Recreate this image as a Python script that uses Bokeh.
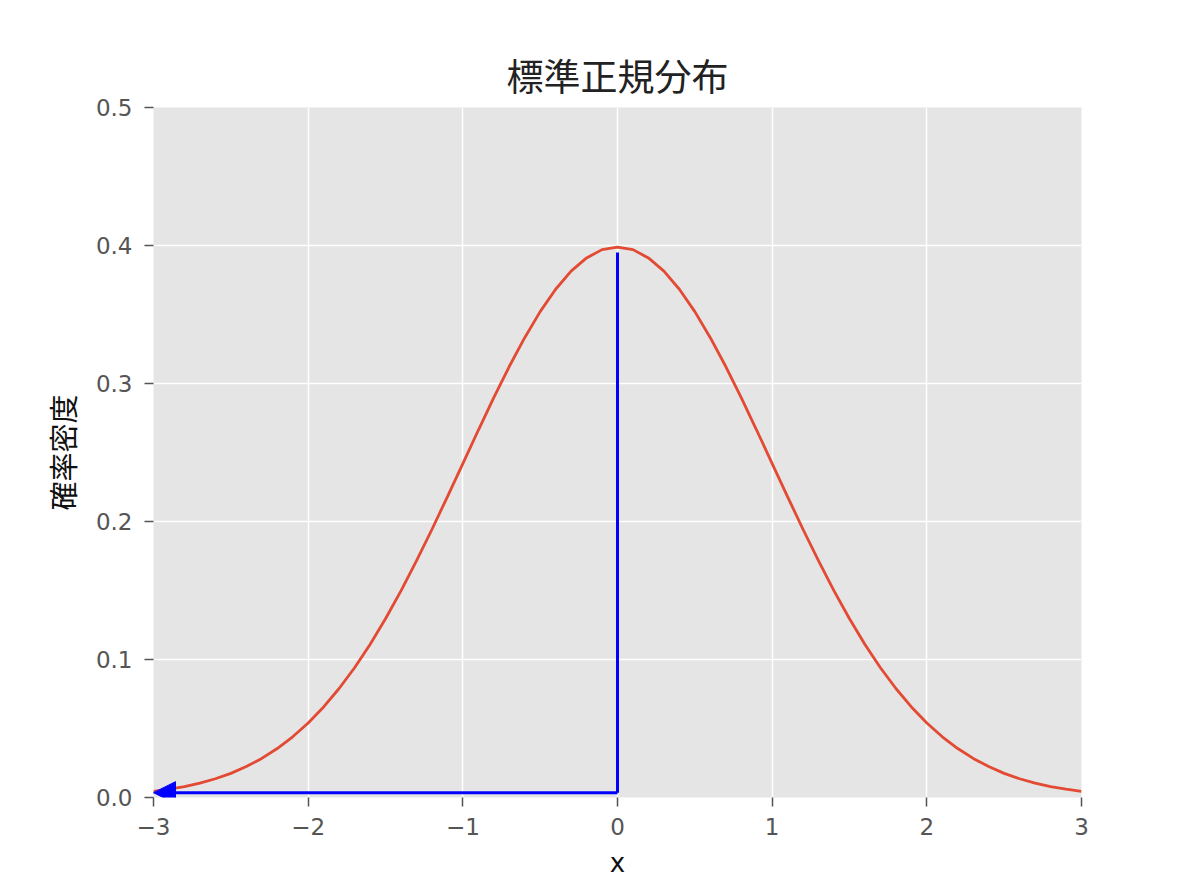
from bokeh.plotting import figure
from bokeh.models import Range1d, FixedTicker, Arrow, NormalHead
from bokeh.embed import file_html
from bokeh.resources import INLINE

# data (standard normal density)
x_vals = [-3.0, -2.9, -2.8, -2.7, -2.6, -2.5, -2.4, -2.3, -2.2, -2.1,
          -2.0, -1.9, -1.8, -1.7, -1.6, -1.5, -1.4, -1.3, -1.2, -1.1,
          -1.0, -0.9, -0.8, -0.7, -0.6, -0.5, -0.4, -0.3, -0.2, -0.1,
          0.0, 0.1, 0.2, 0.3, 0.4, 0.5, 0.6, 0.7, 0.8, 0.9,
          1.0, 1.1, 1.2, 1.3, 1.4, 1.5, 1.6, 1.7, 1.8, 1.9,
          2.0, 2.1, 2.2, 2.3, 2.4, 2.5, 2.6, 2.7, 2.8, 2.9, 3.0]
density = [0.0044, 0.0060, 0.0079, 0.0104, 0.0136, 0.0175, 0.0224, 0.0283, 0.0355, 0.0440,
           0.0540, 0.0656, 0.0790, 0.0940, 0.1109, 0.1295, 0.1497, 0.1714, 0.1942, 0.2179,
           0.2420, 0.2661, 0.2897, 0.3123, 0.3332, 0.3521, 0.3683, 0.3814, 0.3910, 0.3970,
           0.3989, 0.3970, 0.3910, 0.3814, 0.3683, 0.3521, 0.3332, 0.3123, 0.2897, 0.2661,
           0.2420, 0.2179, 0.1942, 0.1714, 0.1497, 0.1295, 0.1109, 0.0940, 0.0790, 0.0656,
           0.0540, 0.0440, 0.0355, 0.0283, 0.0224, 0.0175, 0.0136, 0.0104, 0.0079, 0.0060, 0.0044]

# annotation path: from peak down to near zero, then left to x=-3
guide_x = [0.0, 0.0]
guide_y = [0.395, 0.0035]
arrow_start = (0.0, 0.0035)
arrow_end = (-3.0, 0.0035)

x_ticks = [-3, -2, -1, 0, 1, 2, 3]
x_tick_labels = ["\u22123", "\u22122", "\u22121", "0", "1", "2", "3"]
y_ticks = [0.0, 0.1, 0.2, 0.3, 0.4, 0.5]
y_tick_labels = ["0.0", "0.1", "0.2", "0.3", "0.4", "0.5"]

title_text = "標準正規分布"
x_label = "x"
y_label = "確率密度"

p = figure(width=1180, height=880, output_backend="svg", toolbar_location=None,
           x_range=Range1d(-3, 3), y_range=Range1d(0, 0.5),
           min_border_left=153, min_border_right=99, min_border_top=107, min_border_bottom=82)

p.title.text = title_text
p.title.align = "center"
p.title.text_font = "Noto Sans CJK JP"
p.title.text_font_size = "37px"
p.title.text_font_style = "normal"
p.title.text_color = "#222222"
p.title.offset = 0
p.title.standoff = 12

p.background_fill_color = "#E5E5E5"
p.border_fill_color = "white"
p.outline_line_color = None

for grid in (p.xgrid, p.ygrid):
    grid.grid_line_color = "white"
    grid.grid_line_width = 1.5
p.xgrid.ticker = FixedTicker(ticks=x_ticks)
p.ygrid.ticker = FixedTicker(ticks=y_ticks)

p.xaxis.ticker = FixedTicker(ticks=x_ticks)
p.yaxis.ticker = FixedTicker(ticks=y_ticks)
p.xaxis.major_label_overrides = {t: l for t, l in zip(x_ticks, x_tick_labels)}
p.yaxis.major_label_overrides = {t: l for t, l in zip(y_ticks, y_tick_labels)}

for ax in (p.xaxis, p.yaxis):
    ax.axis_line_color = None
    ax.major_tick_line_color = "#555555"
    ax.major_tick_line_width = 1.5
    ax.major_tick_out = 9
    ax.major_tick_in = 0
    ax.minor_tick_line_color = None
    ax.major_label_text_font = "DejaVu Sans"
    ax.major_label_text_font_size = "23px"
    ax.major_label_text_color = "#555555"
    ax.axis_label_text_font_style = "normal"
    ax.axis_label_text_color = "#111111"
    ax.axis_label_standoff = 10

p.xaxis.major_label_standoff = 11
p.yaxis.major_label_standoff = 12

p.xaxis.axis_label = x_label
p.yaxis.axis_label = y_label
p.xaxis.axis_label_text_font = "DejaVu Sans"
p.xaxis.axis_label_text_font_size = "26px"
p.yaxis.axis_label_text_font = "Noto Sans CJK JP"
p.yaxis.axis_label_text_font_size = "29px"

p.line(x_vals, density, line_color="#E24A33", line_width=2.8)

p.line(guide_x, guide_y, line_color="blue", line_width=3)
p.add_layout(Arrow(x_start=arrow_start[0], y_start=arrow_start[1],
                   x_end=arrow_end[0], y_end=arrow_end[1],
                   line_color="blue", line_width=3,
                   end=NormalHead(size=22, fill_color="blue", fill_alpha=1.0,
                                  line_color="blue", line_width=1)))

open("out.html", "w").write(file_html(p, INLINE))
